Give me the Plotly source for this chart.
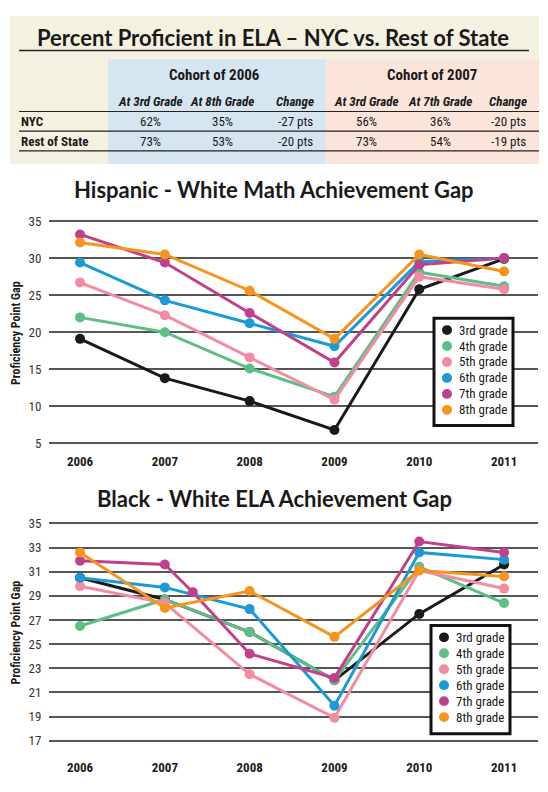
import plotly.graph_objects as go

# data

years = [2006, 2007, 2008, 2009, 2010, 2011]
grades = ["3rd grade", "4th grade", "5th grade", "6th grade", "7th grade", "8th grade"]
colors = ["#1a1a1a", "#5dbf85", "#f38ba3", "#1b9ad6", "#c1408c", "#f7941e"]

# hispanic - white math gap
math_3rd = [19.1, 13.8, 10.7, 6.8, 25.8, 29.9]
math_4th = [22.0, 20.0, 15.1, 11.3, 28.1, 26.2]
math_5th = [26.7, 22.3, 16.6, 10.9, 27.5, 25.8]
math_6th = [29.4, 24.3, 21.2, 18.1, 29.5, 30.0]
math_7th = [33.2, 29.4, 22.6, 15.9, 29.1, 30.0]
math_8th = [32.1, 30.5, 25.6, 19.1, 30.5, 28.2]

# black - white ela gap (3rd grade runs under 4th grade from 2007 to 2009)
ela_3rd = [30.5, 28.7, 26.0, 22.0, 27.5, 31.6]
ela_4th = [26.5, 28.7, 26.0, 22.0, 31.4, 28.4]
ela_5th = [29.8, 28.4, 22.5, 18.9, 31.1, 29.6]
ela_6th = [30.5, 29.7, 27.9, 19.9, 32.6, 32.0]
ela_7th_years = [2006, 2007, 2007.33, 2008, 2009, 2010, 2011]
ela_7th = [31.9, 31.6, 29.3, 24.2, 22.2, 33.5, 32.6]
ela_8th = [32.6, 28.0, 29.4, 25.6, 31.1, 30.6]

# table
row_names = ["NYC", "Rest of State"]
col_names = ["At 3rd Grade", "At 8th Grade", "Change", "At 3rd Grade", "At 7th Grade", "Change"]
nyc_vals = ["62%", "35%", "-27 pts", "56%", "36%", "-20 pts"]
ros_vals = ["73%", "53%", "-20 pts", "73%", "54%", "-19 pts"]

math_series = [math_3rd, math_4th, math_5th, math_6th, math_7th, math_8th]
ela_series = [ela_3rd, ela_4th, ela_5th, ela_6th, ela_7th, ela_8th]
ela_x = [years, years, years, years, ela_7th_years, years]

# page body has an 8px margin, so the figure is a bit smaller and positions are shifted
OFF = 8
W, H = 548 - OFF, 792 - OFF
narrow = "Liberation Sans Narrow, Roboto Condensed, Arial Narrow, sans-serif"
title_font = "Lato, Open Sans, sans-serif"
ink = "#1a1a1a"

def px(x):
    return (x - OFF) / W

def py(y):
    return 1 - (y - OFF) / H

fig = go.Figure()

# lines

for i in range(6):
    fig.add_trace(go.Scatter(x=years, y=math_series[i], mode="lines+markers", name=grades[i],
                             line=dict(color=colors[i], width=3), marker=dict(size=10, color=colors[i]),
                             xaxis="x", yaxis="y"))

for i in range(6):
    fig.add_trace(go.Scatter(x=ela_x[i], y=ela_series[i], mode="lines+markers", name=grades[i],
                             line=dict(color=colors[i], width=3), marker=dict(size=10, color=colors[i]),
                             xaxis="x2", yaxis="y2"))

# table background

shapes = [
    dict(type="rect", x0=px(10), x1=px(539), y0=py(160), y1=py(10), fillcolor="#f4f1e0", line=dict(width=0), layer="below"),
    dict(type="rect", x0=px(108), x1=px(326), y0=py(160), y1=py(54), fillcolor="#d6e6f1", line=dict(width=0), layer="below"),
    dict(type="rect", x0=px(326), x1=px(539), y0=py(160), y1=py(54), fillcolor="#fbe4da", line=dict(width=0), layer="below"),
    dict(type="line", x0=px(19), x1=px(529), y0=py(45), y1=py(45), line=dict(color="#222", width=1.5)),
]
for yy in [107, 127, 147]:
    shapes.append(dict(type="line", x0=px(19), x1=px(539), y0=py(yy), y1=py(yy), line=dict(color="#222", width=1.2)))

annotations = [
    dict(text="<b>Percent Proficient in ELA – NYC vs. Rest of State</b>", x=px(273), y=py(32),
         font=dict(family=title_font, size=22, color=ink)),
    dict(text="<b>Cohort of 2006</b>", x=px(214), y=py(70), font=dict(family=narrow, size=15, color=ink)),
    dict(text="<b>Cohort of 2007</b>", x=px(432), y=py(70), font=dict(family=narrow, size=15, color=ink)),
    dict(text="<b>Hispanic - White Math Achievement Gap</b>", x=px(274), y=py(186),
         font=dict(family=title_font, size=22, color=ink)),
    dict(text="<b>Black - White ELA Achievement Gap</b>", x=px(274), y=py(500),
         font=dict(family=title_font, size=22, color=ink)),
    dict(text="<b>Proficiency Point Gap</b>", x=px(16), y=py(332), textangle=-90,
         font=dict(family=narrow, size=12, color=ink)),
    dict(text="<b>Proficiency Point Gap</b>", x=px(16), y=py(636), textangle=-90,
         font=dict(family=narrow, size=12, color=ink)),
]

col_x = [150, 222, 295, 366, 440, 508]
for j in range(6):
    annotations.append(dict(text="<b><i>" + col_names[j] + "</i></b>", x=px(col_x[j]), y=py(97),
                            font=dict(family=narrow, size=13, color=ink)))
    annotations.append(dict(text=nyc_vals[j], x=px(col_x[j]), y=py(117), font=dict(family=narrow, size=13, color=ink)))
    annotations.append(dict(text=ros_vals[j], x=px(col_x[j]), y=py(137), font=dict(family=narrow, size=13, color=ink)))
for k, yy in enumerate([117, 137]):
    annotations.append(dict(text="<b>" + row_names[k] + "</b>", x=px(19), y=py(yy), xanchor="left",
                            font=dict(family=narrow, size=13, color=ink)))

# legend boxes (drawn by hand so the rows sit as tight as in the print)

legend_boxes = [(434, 317, 513, 426, 447, 329), (431, 629, 510, 739, 444, 641)]
for bx0, by0, bx1, by1, cx, cy in legend_boxes:
    shapes.append(dict(type="rect", x0=px(bx0), x1=px(bx1), y0=py(by1), y1=py(by0), fillcolor="white",
                       line=dict(color="#111", width=3), layer="above"))
    for i in range(6):
        yy = cy + i * 16.2
        shapes.append(dict(type="circle", x0=px(cx - 5), x1=px(cx + 5), y0=py(yy + 5), y1=py(yy - 5),
                           fillcolor=colors[i], line=dict(width=0), layer="above"))
        annotations.append(dict(text=grades[i], x=px(cx + 10), y=py(yy), xanchor="left",
                                font=dict(family=narrow, size=13, color=ink)))

for s in shapes:
    s["xref"] = "paper"
    s["yref"] = "paper"

for a in annotations:
    a.setdefault("xref", "paper")
    a.setdefault("yref", "paper")
    a.setdefault("showarrow", False)
    a.setdefault("xanchor", "center")
    a.setdefault("yanchor", "middle")

xcommon = dict(range=[2005.634, 2011.40], tickvals=years, ticktext=[str(y) for y in years],
               showgrid=False, zeroline=False, showline=False, ticks="outside", tickcolor="rgba(0,0,0,0)",
               tickfont=dict(family=narrow, size=13, color=ink, weight="bold"),
               domain=[px(49), px(538)])
ycommon = dict(showgrid=True, gridcolor="#555555", gridwidth=1.5, zeroline=False, showline=False,
               ticks="outside", ticklen=4, tickcolor="rgba(0,0,0,0)",
               tickfont=dict(family=narrow, size=13, color="#333333"))

fig.update_layout(
    width=W, height=H, margin=dict(l=0, r=0, t=0, b=0),
    paper_bgcolor="white", plot_bgcolor="white",
    xaxis=dict(xcommon, anchor="y", ticklen=5),
    yaxis=dict(ycommon, range=[4.8, 35.2], tickvals=[5, 10, 15, 20, 25, 30, 35],
               domain=[py(445.5), py(216.8)], anchor="x"),
    xaxis2=dict(xcommon, anchor="y2", ticklen=13),
    yaxis2=dict(ycommon, range=[16.85, 35.15], tickvals=[17, 19, 21, 23, 25, 27, 29, 31, 33, 35],
                domain=[py(747.8), py(523.5)], anchor="x2"),
    shapes=shapes,
    annotations=annotations,
    showlegend=False,
)

fig.write_html("out.html")
